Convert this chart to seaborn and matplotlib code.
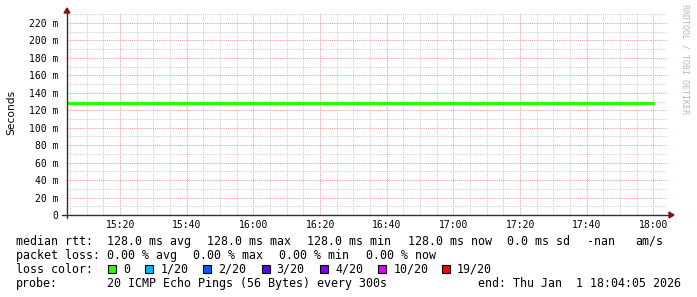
import matplotlib
matplotlib.use("Agg")
import matplotlib.pyplot as plt
import matplotlib.dates as mdates
from matplotlib.patches import Rectangle, Polygon
from matplotlib.ticker import MultipleLocator, FuncFormatter
import numpy as np
import pandas as pd
import seaborn as sns

# ---------------- data ----------------
times = pd.date_range("2026-01-01 15:00", "2026-01-01 18:00", freq="5min")
median_rtt = [0.128, 0.128, 0.128, 0.128, 0.128, 0.128, 0.128, 0.128, 0.128, 0.128,
              0.128, 0.128, 0.128, 0.128, 0.128, 0.128, 0.128, 0.128, 0.128, 0.128,
              0.128, 0.128, 0.128, 0.128, 0.128, 0.128, 0.128, 0.128, 0.128, 0.128,
              0.128, 0.128, 0.128, 0.128, 0.128, 0.128, 0.128]
loss_labels = ["0", "1/20", "2/20", "3/20", "4/20", "10/20", "19/20"]
loss_colors = ["#26ff00", "#00b8ff", "#0059ff", "#5e00ff", "#7e00ff", "#dd00ff", "#ff0000"]
rtt_stats = ["128.0 ms avg", "128.0 ms max", "128.0 ms min", "128.0 ms now", "0.0 ms sd", "-nan", "am/s"]
loss_stats = ["0.00 % avg", "0.00 % max", "0.00 % min", "0.00 % now"]
probe_text = "20 ICMP Echo Pings (56 Bytes) every 300s"
end_text = "end: Thu Jan  1 18:04:05 2026"
x_start = pd.Timestamp("2026-01-01 15:04:05")
x_end = pd.Timestamp("2026-01-01 18:04:05")

df = pd.DataFrame({"time": times, "rtt": median_rtt})

# ---------------- figure ----------------
sns.set_style("white")
plt.rcParams["font.family"] = ["DejaVu Sans Mono", "DejaVu Sans"]

W, H = 697, 297
fig = plt.figure(figsize=(W / 100, H / 100), dpi=100)
fig.patch.set_facecolor("white")

def fx(px):
    return px / W

def fy(py):
    return 1 - py / H

ax_l, ax_r, ax_b, ax_t = 67, 667, 215, 13
ax = fig.add_axes([fx(ax_l), fy(ax_b), fx(ax_r) - fx(ax_l), fy(ax_t) - fy(ax_b)])
ax.set_facecolor("white")

ymax = (ax_b - ax_t) / (192 / 0.220)

# grid
ax.xaxis.set_major_locator(mdates.MinuteLocator(byminute=[0, 20, 40]))
ax.xaxis.set_minor_locator(mdates.MinuteLocator(byminute=range(0, 60, 5)))
ax.xaxis.set_major_formatter(mdates.DateFormatter("%H:%M"))
ax.yaxis.set_major_locator(MultipleLocator(0.020))
ax.yaxis.set_minor_locator(MultipleLocator(0.010))

def yfmt(v, pos):
    ms = round(v * 1000)
    return "0" if ms == 0 else f"{ms} m"

ax.yaxis.set_major_formatter(FuncFormatter(yfmt))

ax.grid(which="minor", color="#cfcfcf", linestyle=(0, (1, 1)), linewidth=0.75)
ax.grid(which="major", color="#e8a0a0", linestyle=(0, (1, 1)), linewidth=0.75)
ax.set_axisbelow(True)

sns.lineplot(data=df, x="time", y="rtt", color="#26ff00", linewidth=2.3, ax=ax, zorder=3)

ax.set_xlim(x_start, x_end)
ax.set_ylim(0, ymax)
ax.set_xlabel("")
ax.set_ylabel("")

for s in ax.spines.values():
    s.set_visible(False)

ax.tick_params(axis="both", which="both", direction="inout", color="#404040")
ax.tick_params(axis="x", which="major", length=4, width=0.8, pad=1.5, labelsize=7, labelcolor="#000000")
ax.tick_params(axis="x", which="minor", length=3, width=0.6)
ax.tick_params(axis="y", which="major", length=4, width=0.8, pad=4, labelsize=7, labelcolor="#000000")
ax.tick_params(axis="y", which="minor", length=3, width=0.6)

# axis lines with arrows (figure pixel coordinates)
axis_col = "#303030"
arrow_col = "#8b1010"
fig.add_artist(plt.Line2D([fx(62), fx(669)], [fy(ax_b), fy(ax_b)], color=axis_col, linewidth=1.0))
fig.add_artist(plt.Line2D([fx(ax_l), fx(ax_l)], [fy(218), fy(12)], color=axis_col, linewidth=1.0))
fig.add_artist(Polygon([[fx(669), fy(ax_b - 3)], [fx(674), fy(ax_b)], [fx(669), fy(ax_b + 3)]],
                       closed=True, facecolor=arrow_col, edgecolor=arrow_col, transform=fig.transFigure))
fig.add_artist(Polygon([[fx(ax_l - 3), fy(13)], [fx(ax_l), fy(8)], [fx(ax_l + 3), fy(13)]],
                       closed=True, facecolor=arrow_col, edgecolor=arrow_col, transform=fig.transFigure))

# y label
fig.text(fx(11), fy(112), "Seconds", rotation=90, ha="center", va="center",
         fontsize=7.7, family=["DejaVu Sans"], color="#000000")

# watermark
fig.text(fx(685), fy(59), "RRDTOOL / TOBI OETIKER", rotation=-90, ha="center", va="center",
         fontsize=6.0, color="#b8b8b8")

# legend text
fs = 8.4
tc = "#000000"
row1, row2, row3, row4 = 241.5, 255.2, 269.3, 283.3

fig.text(fx(16), fy(row1), "median rtt:", ha="left", va="center", fontsize=fs, color=tc)
for xp, t in zip([107, 207, 307, 408, 507, 587, 635], rtt_stats):
    fig.text(fx(xp), fy(row1), t, ha="left", va="center", fontsize=fs, color=tc)

fig.text(fx(16), fy(row2), "packet loss:", ha="left", va="center", fontsize=fs, color=tc)
for xp, t in zip([107, 193.3, 279.3, 365.7], loss_stats):
    fig.text(fx(xp), fy(row2), t, ha="left", va="center", fontsize=fs, color=tc)

fig.text(fx(16), fy(row3), "loss color:", ha="left", va="center", fontsize=fs, color=tc)
box_x = [108.3, 145.3, 203.3, 261.7, 320.0, 378.3, 441.7]
for bx, lab, col in zip(box_x, loss_labels, loss_colors):
    fig.add_artist(Rectangle((fx(bx), fy(row3 + 4)), fx(8), 8 / H, facecolor=col,
                             edgecolor="#000000", linewidth=0.8, transform=fig.transFigure))
    fig.text(fx(bx + 15), fy(row3), lab, ha="left", va="center", fontsize=fs, color=tc)

fig.text(fx(16), fy(row4), "probe:", ha="left", va="center", fontsize=fs, color=tc)
fig.text(fx(107), fy(row4), probe_text, ha="left", va="center", fontsize=fs, color=tc)
fig.text(fx(478.3), fy(row4), end_text, ha="left", va="center", fontsize=fs, color=tc)

fig.savefig("out.png", dpi=100, facecolor="white")
